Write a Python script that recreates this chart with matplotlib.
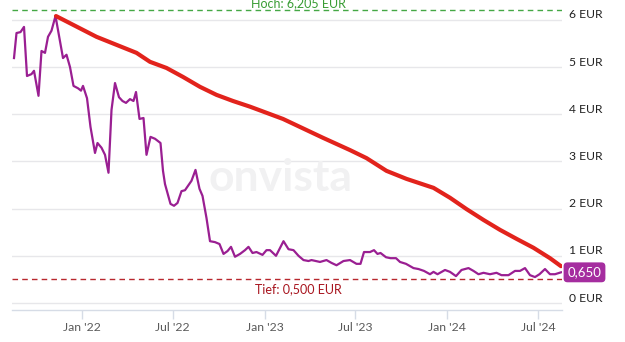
import matplotlib
matplotlib.use("Agg")
import matplotlib.pyplot as plt
import matplotlib.transforms as mtransforms
import pandas as pd

plt.rcParams['font.family'] = ['Lato', 'DejaVu Sans']

# Share price (EUR)
price_dates = [
    "2021-08-18", "2021-08-23", "2021-08-31", "2021-09-07", "2021-09-13", "2021-09-22",
    "2021-09-27", "2021-10-06", "2021-10-12", "2021-10-19", "2021-10-25", "2021-11-01",
    "2021-11-09", "2021-11-24", "2021-12-01", "2021-12-08", "2021-12-15", "2021-12-24",
    "2021-12-30", "2022-01-03", "2022-01-11", "2022-01-18", "2022-01-27", "2022-02-01",
    "2022-02-09", "2022-02-16", "2022-02-23", "2022-03-01", "2022-03-08", "2022-03-16",
    "2022-03-23", "2022-03-30", "2022-04-07", "2022-04-14", "2022-04-19", "2022-04-26",
    "2022-05-04", "2022-05-10", "2022-05-18", "2022-05-27", "2022-06-07", "2022-06-12",
    "2022-06-16", "2022-06-27", "2022-07-04", "2022-07-11", "2022-07-19", "2022-07-26",
    "2022-08-08", "2022-08-16", "2022-08-24", "2022-08-30", "2022-09-07", "2022-09-14",
    "2022-09-24", "2022-10-03", "2022-10-11", "2022-10-19", "2022-10-26", "2022-11-03",
    "2022-11-13", "2022-11-23", "2022-11-30", "2022-12-08", "2022-12-16", "2022-12-28",
    "2023-01-05", "2023-01-12", "2023-01-24", "2023-02-08", "2023-02-18", "2023-02-28",
    "2023-03-10", "2023-03-20", "2023-03-30", "2023-04-05", "2023-04-22", "2023-05-05",
    "2023-05-15", "2023-05-25", "2023-06-08", "2023-06-21", "2023-07-04", "2023-07-12",
    "2023-07-19", "2023-07-31", "2023-08-08", "2023-08-15", "2023-08-21", "2023-09-01",
    "2023-09-10", "2023-09-21", "2023-09-29", "2023-10-11", "2023-10-26", "2023-11-05",
    "2023-11-16", "2023-11-28", "2023-12-05", "2023-12-13", "2023-12-28", "2024-01-07",
    "2024-01-19", "2024-01-30", "2024-02-13", "2024-02-23", "2024-03-04", "2024-03-14",
    "2024-03-27", "2024-04-09", "2024-04-19", "2024-05-03", "2024-05-16", "2024-05-26",
    "2024-06-05", "2024-06-15", "2024-06-25", "2024-07-04", "2024-07-15", "2024-07-25",
    "2024-08-04", "2024-08-16",
]
price_values = [
    5.19, 5.72, 5.74, 5.85, 4.81, 4.85,
    4.92, 4.39, 5.34, 5.30, 5.64, 5.77,
    6.08, 5.19, 5.26, 5.00, 4.60, 4.55,
    4.50, 4.60, 4.34, 3.73, 3.18, 3.39,
    3.29, 3.14, 2.76, 4.09, 4.66, 4.36,
    4.28, 4.24, 4.32, 4.28, 4.47, 3.90,
    3.92, 3.14, 3.52, 3.48, 3.39, 2.80,
    2.52, 2.10, 2.06, 2.12, 2.37, 2.39,
    2.59, 2.82, 2.42, 2.27, 1.80, 1.31,
    1.29, 1.25, 1.04, 1.10, 1.19, 0.98,
    1.04, 1.12, 1.19, 1.06, 1.08, 1.02,
    1.12, 1.12, 1.00, 1.31, 1.14, 1.12,
    1.00, 0.91, 0.89, 0.91, 0.87, 0.91,
    0.85, 0.80, 0.89, 0.91, 0.83, 0.83,
    1.08, 1.08, 1.12, 1.04, 1.06, 0.97,
    0.95, 0.95, 0.87, 0.83, 0.74, 0.72,
    0.68, 0.61, 0.66, 0.61, 0.70, 0.66,
    0.57, 0.70, 0.74, 0.68, 0.61, 0.64,
    0.61, 0.64, 0.59, 0.59, 0.68, 0.68,
    0.74, 0.59, 0.55, 0.61, 0.72, 0.61,
    0.61, 0.65,
]

# Trailing line (EUR)
trend_dates = [
    "2021-11-10", "2022-01-30", "2022-04-20", "2022-05-17", "2022-06-19", "2022-07-22",
    "2022-08-25", "2022-09-27", "2022-10-30", "2022-12-03", "2023-01-05", "2023-02-07",
    "2023-03-13", "2023-04-28", "2023-06-21", "2023-07-24", "2023-09-02", "2023-10-12",
    "2023-12-05", "2024-01-07", "2024-02-09", "2024-03-14", "2024-04-16", "2024-05-19",
    "2024-06-22", "2024-07-25", "2024-08-16",
]
trend_values = [
    6.08, 5.64, 5.30, 5.11, 4.98, 4.79,
    4.58, 4.41, 4.28, 4.16, 4.03, 3.90,
    3.73, 3.50, 3.24, 3.07, 2.80, 2.63,
    2.44, 2.23, 1.99, 1.76, 1.55, 1.36,
    1.17, 0.95, 0.78,
]

high_value = 6.205
low_value = 0.500
last_value = 0.650
high_label = "Hoch: 6,205 EUR"
low_label = "Tief: 0,500 EUR"
last_label = "0,650"

y_ticks = [0, 1, 2, 3, 4, 5, 6]
y_tick_labels = ["0 EUR", "1 EUR", "2 EUR", "3 EUR", "4 EUR", "5 EUR", "6 EUR"]
x_tick_dates = ["2022-01-01", "2022-07-01", "2023-01-01", "2023-07-01", "2024-01-01", "2024-07-01"]
x_tick_labels = ["Jan '22", "Jul '22", "Jan '23", "Jul '23", "Jan '24", "Jul '24"]

PURPLE = "#9a1f92"
RED = "#e2231c"

fig = plt.figure(figsize=(6.25, 3.42), dpi=100)
ax = fig.add_axes([12 / 625, 32 / 342, 550 / 625, 310 / 342])

pd_price = pd.to_datetime(price_dates)
pd_trend = pd.to_datetime(trend_dates)

ax.set_xlim(pd.Timestamp("2021-08-14"), pd.Timestamp("2024-08-18"))
ax.set_ylim(-0.148, 6.42)

# horizontal grid
for v in y_ticks:
    ax.axhline(v, color="#e7e7ea", lw=1.0, zorder=0)

# watermark
ax.text(0.488, 0.425, "onvista", transform=ax.transAxes, fontsize=32, fontweight="bold",
        color="#f1f1f2", ha="center", va="center", zorder=0.5)

# high / low reference lines
ax.axhline(high_value, color="#45a845", lw=1.0, ls=(0, (4, 3)), zorder=1)
ax.axhline(low_value, color="#b8282e", lw=1.0, ls=(0, (4, 3)), zorder=1)

x_mid = pd.Timestamp("2023-03-09")
ax.annotate(high_label, xy=(x_mid, high_value), xytext=(0, 2.2), textcoords="offset points",
            ha="center", va="baseline", fontsize=9, color="#3a9d35", annotation_clip=False)
ax.annotate(low_label, xy=(x_mid, low_value), xytext=(0, -7), textcoords="offset points",
            ha="center", va="center", fontsize=9, color="#a8151f", annotation_clip=False)

ax.plot(pd_price, price_values, color=PURPLE, lw=1.6, solid_joinstyle="round", zorder=3)
ax.plot(pd_trend, trend_values, color=RED, lw=3.0, solid_joinstyle="round",
        solid_capstyle="round", zorder=4)

# last value badge
trans = mtransforms.blended_transform_factory(ax.transAxes, ax.transData)
ax.annotate(last_label, xy=(1.0, last_value), xycoords=trans, xytext=(4, 0),
            textcoords="offset points", ha="left", va="center", fontsize=9.5, color="white",
            bbox=dict(boxstyle="round,pad=0.3,rounding_size=0.3", fc="#a52d9f", ec="none"),
            annotation_clip=False, zorder=6)

# axes styling
for s in ["top", "left", "right"]:
    ax.spines[s].set_visible(False)
ax.spines["bottom"].set_color("#d6dce6")
ax.spines["bottom"].set_linewidth(1.0)

ax.set_xticks(pd.to_datetime(x_tick_dates))
ax.set_xticklabels(x_tick_labels)
ax.tick_params(axis="x", length=6.5, width=1.0, color="#d6dce6", labelsize=8.8,
               labelcolor="#5a5a5a", pad=2)

ax.yaxis.tick_right()
ax.set_yticks(y_ticks)
ax.set_yticklabels(y_tick_labels)
ax.tick_params(axis="y", length=0, labelsize=8.7, labelcolor="#222222", pad=5)
shift_up = mtransforms.ScaledTranslation(0, 6 / 100, fig.dpi_scale_trans)
for lbl in ax.get_yticklabels():
    lbl.set_transform(lbl.get_transform() + shift_up)

fig.savefig("out.png", dpi=100, facecolor="white")
